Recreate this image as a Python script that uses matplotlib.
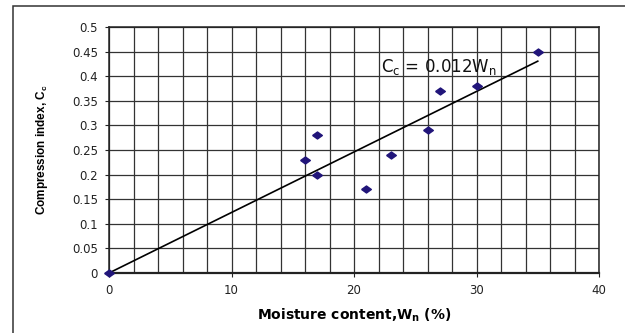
import numpy as np
import matplotlib.pyplot as plt
from matplotlib.patches import Rectangle
from matplotlib.ticker import MultipleLocator

# Moisture content (%) and compression index
wn = [0, 16, 17, 17, 21, 23, 26, 27, 30, 35]
cc = [0, 0.23, 0.28, 0.20, 0.17, 0.24, 0.29, 0.37, 0.38, 0.45]

x_ticks = [0, 10, 20, 30, 40]
y_ticks = [0, 0.05, 0.1, 0.15, 0.2, 0.25, 0.3, 0.35, 0.4, 0.45, 0.5]

# linear fit through the origin
x = np.array(wn, dtype=float)
y = np.array(cc, dtype=float)
slope = (x * y).sum() / (x * x).sum()
x_fit = np.array([0, x.max()])

plt.rcParams['font.family'] = 'DejaVu Sans'
plt.rcParams['mathtext.fontset'] = 'dejavusans'

fig = plt.figure(figsize=(6.25, 3.33), dpi=100)
fig.patch.set_facecolor('white')
fig.patches.append(Rectangle((13 / 625, -0.2), 1.2, 1.2 - 6 / 333,
                             transform=fig.transFigure, fill=False,
                             edgecolor='#333333', linewidth=1.1))

ax = fig.add_axes([109 / 625, 1 - 273 / 333, 490 / 625, 246 / 333])

diamond = [(-1, 0), (0, 0.72), (1, 0), (0, -0.72), (-1, 0)]
ax.plot(x_fit, slope * x_fit, color='black', linewidth=1.2, zorder=3)
ax.plot(wn, cc, linestyle='none', marker=diamond, markersize=7,
        color='#21157a', zorder=4, clip_on=False)

ax.text(22.2, 0.419,
        r'C$_\mathregular{c}$ = %.3fW$_\mathregular{n}$' % slope,
        fontsize=12, va='center', ha='left', color='#111111')

ax.set_xlim(0, 40)
ax.set_ylim(0, 0.5)
ax.set_xticks(x_ticks)
ax.set_yticks(y_ticks)
ax.set_yticklabels(['%g' % v for v in y_ticks])
ax.xaxis.set_minor_locator(MultipleLocator(2))
ax.grid(which='both', color='#333333', linewidth=0.9)
ax.set_axisbelow(True)
ax.tick_params(which='major', direction='out', length=3, width=0.8,
               labelsize=8.5, colors='#222222', pad=5)
ax.tick_params(which='minor', length=0)
for s in ax.spines.values():
    s.set_color('#222222')
    s.set_linewidth(1.1)
ax.spines['bottom'].set_linewidth(1.6)

ax.set_xlabel(r'Moisture content,W$_\mathregular{n}$ (%)', fontsize=10,
              fontweight='bold', labelpad=7)
ax.set_ylabel(r'Compression index, C$_\mathregular{c}$', fontsize=8.5,
              fontfamily='Liberation Sans', fontweight='bold', labelpad=16)

fig.savefig('out.png', dpi=100)
